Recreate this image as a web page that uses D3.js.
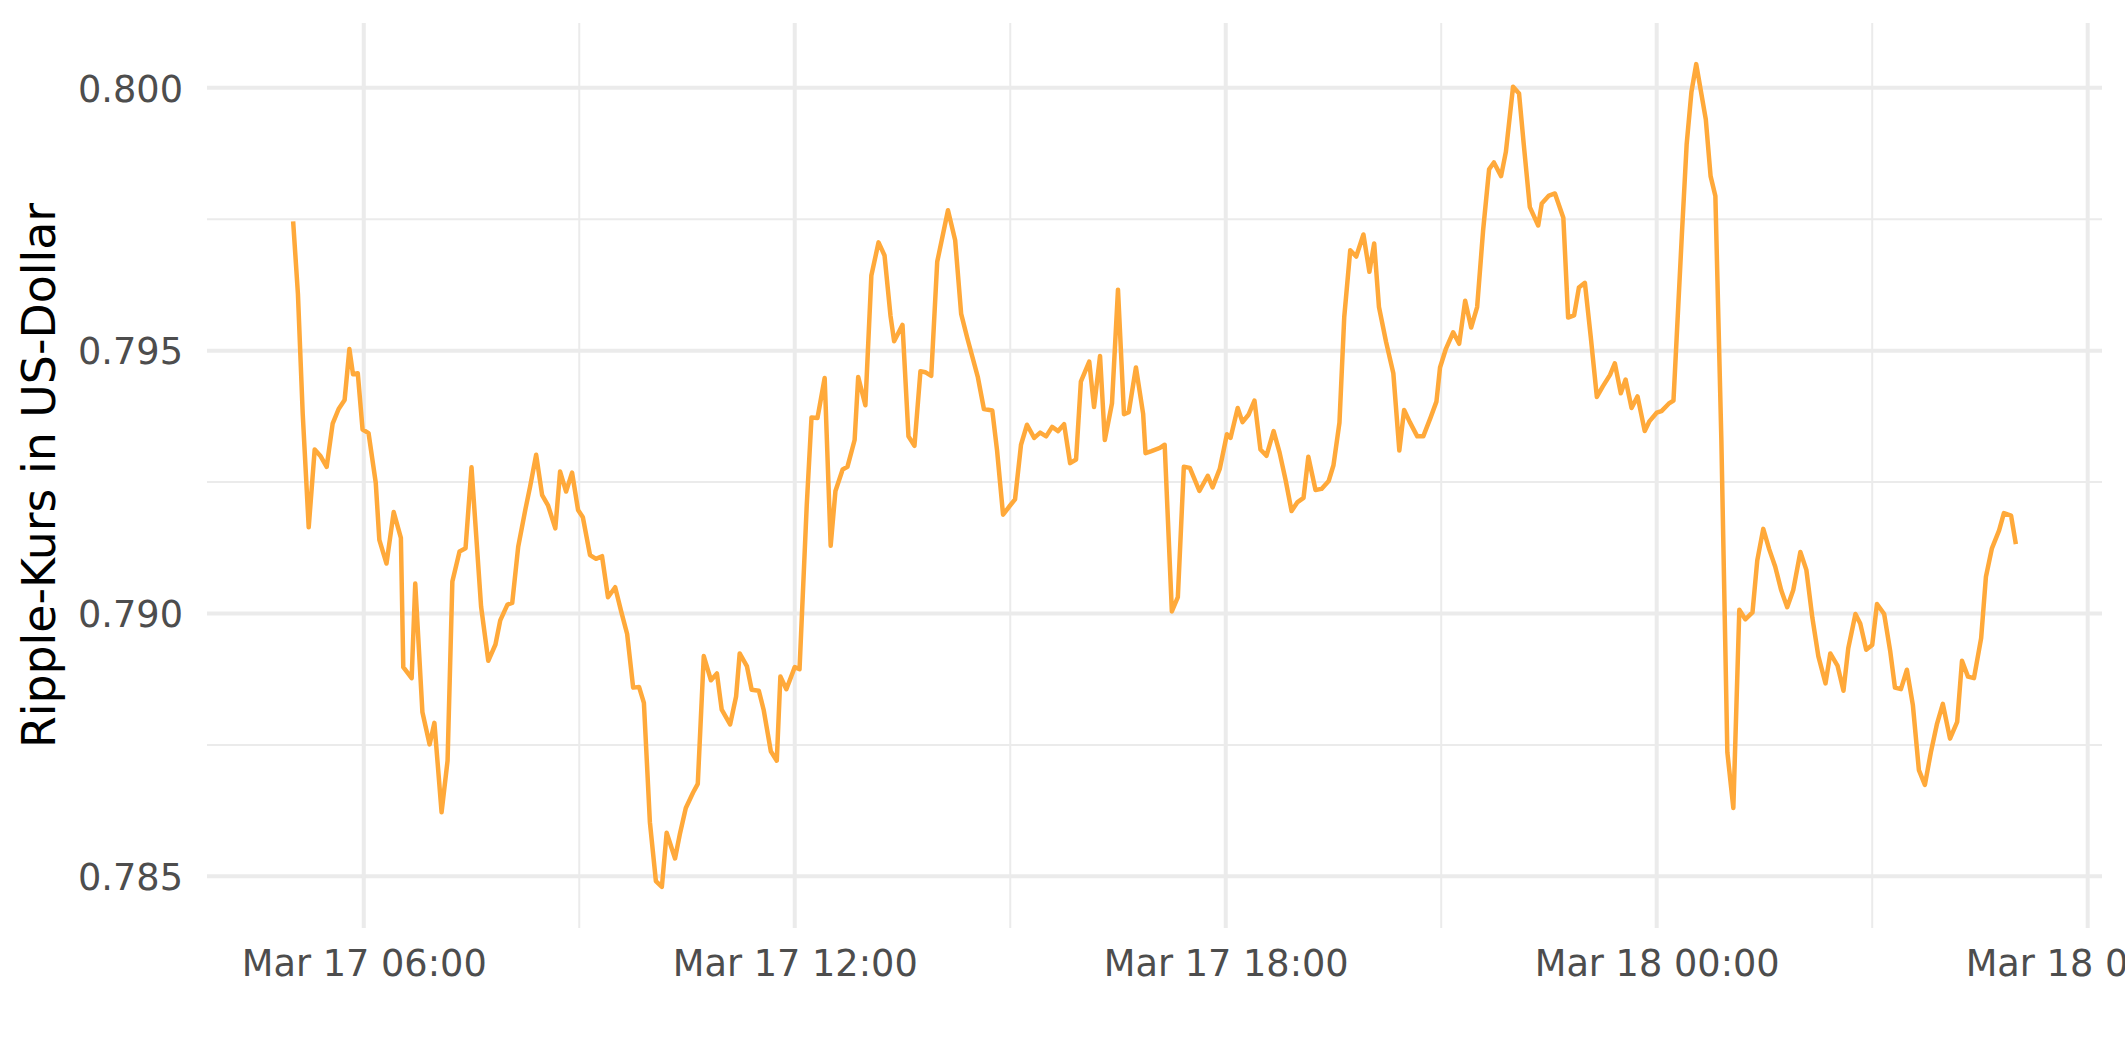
<!DOCTYPE html>
<html>
<head>
<meta charset="utf-8">
<script src="https://cdn.jsdelivr.net/npm/d3@7"></script>
<style>
  html, body { margin: 0; padding: 0; background: #ffffff; }
  svg { display: block; font-family: "DejaVu Sans", sans-serif; }
</style>
</head>
<body>
<svg id="chart" width="2125" height="1062"></svg>
<script>
// Time of each observation, in minutes after Mar 17 06:00
const startTime = "2018-03-17T06:00:00";
const minutesAfterStart = [
  -59,-55,-51,-46,-41,-36,-31,-26,-21,-16,-12,-9,-5,-1,4,10,13,19,25,31,
  33,40,43,49,55,59,65,70,74,80,85,90,98,104,110,114,120,124,129,135,
  139,144,149,154,160,164,169,174,179,183,189,194,199,204,210,215,220,225,230,234,
  239,244,249,253,260,264,269,275,279,284,290,295,299,306,311,314,320,324,330,334,
  340,345,348,353,360,364,370,374,379,385,390,394,400,404,410,413,419,424,430,435,
  440,443,450,455,460,465,469,474,479,488,494,499,504,513,518,525,529,534,539,544,
  549,554,560,565,570,575,580,585,590,595,599,606,610,615,619,625,630,635,639,645,
  651,653,658,665,669,675,680,685,690,694,698,705,709,715,721,724,730,734,739,744,
  749,754,760,765,770,775,780,785,789,795,800,806,810,815,819,824,829,835,840,844,
  848,854,860,865,869,874,880,885,891,896,899,904,910,915,920,925,930,935,940,944,
  950,954,960,965,969,974,981,984,990,995,1002,1006,1011,1015,1020,1025,1030,1035,1041,1045,
  1050,1054,1059,1064,1070,1074,1080,1084,1090,1094,1101,1105,1109,1113,1121,1125,1129,1134,1139,1144,
  1149,1154,1160,1164,1169,1174,1179,1184,1189,1194,1200,1205,1210,1215,1221,1225,1231,1236,1240,1246,
  1250,1255,1260,1264,1270,1275,1279,1284,1289,1294,1299,1304,1309,1314,1319,1325,1331,1335,1340,1345,
  1351,1355,1360,1366,1370,1376,1380
];
// Ripple price in US dollars
const priceUSD = [
  0.79746,0.79608,0.79380,0.79164,0.79312,0.79299,0.79279,0.79361,0.79389,0.79406,0.79503,0.79455,0.79457,0.79350,0.79343,0.79249,0.79140,0.79095,0.79193,0.79144,
  0.78898,0.78877,0.79057,0.78812,0.78751,0.78792,0.78622,0.78720,0.79061,0.79118,0.79124,0.79278,0.79013,0.78910,0.78941,0.78987,0.79017,0.79020,0.79127,0.79198,
  0.79242,0.79302,0.79225,0.79205,0.79162,0.79270,0.79232,0.79268,0.79197,0.79183,0.79111,0.79104,0.79109,0.79031,0.79050,0.79004,0.78961,0.78859,0.78860,0.78830,
  0.78603,0.78491,0.78480,0.78583,0.78534,0.78580,0.78630,0.78659,0.78676,0.78919,0.78873,0.78886,0.78817,0.78789,0.78842,0.78924,0.78900,0.78855,0.78853,0.78817,
  0.78738,0.78720,0.78880,0.78856,0.78898,0.78894,0.79205,0.79373,0.79372,0.79448,0.79129,0.79233,0.79274,0.79279,0.79330,0.79450,0.79396,0.79643,0.79706,0.79681,
  0.79566,0.79518,0.79549,0.79337,0.79319,0.79461,0.79459,0.79452,0.79669,0.79767,0.79710,0.79570,0.79525,0.79449,0.79389,0.79386,0.79310,0.79188,0.79203,0.79217,
  0.79321,0.79359,0.79334,0.79344,0.79337,0.79355,0.79347,0.79360,0.79286,0.79293,0.79441,0.79479,0.79393,0.79490,0.79330,0.79400,0.79616,0.79379,0.79383,0.79468,
  0.79380,0.79305,0.79309,0.79315,0.79321,0.79004,0.79031,0.79279,0.79277,0.79255,0.79233,0.79262,0.79240,0.79275,0.79341,0.79334,0.79391,0.79364,0.79378,0.79405,
  0.79312,0.79300,0.79347,0.79306,0.79254,0.79195,0.79212,0.79220,0.79298,0.79235,0.79237,0.79252,0.79282,0.79363,0.79564,0.79691,0.79679,0.79721,0.79650,0.79704,
  0.79583,0.79516,0.79457,0.79310,0.79387,0.79363,0.79337,0.79337,0.79372,0.79403,0.79468,0.79504,0.79535,0.79513,0.79595,0.79544,0.79583,0.79729,0.79845,0.79858,
  0.79832,0.79878,0.80002,0.79989,0.79891,0.79773,0.79738,0.79780,0.79795,0.79799,0.79753,0.79563,0.79567,0.79620,0.79629,0.79524,0.79412,0.79432,0.79454,0.79476,
  0.79419,0.79445,0.79391,0.79413,0.79347,0.79366,0.79382,0.79385,0.79399,0.79405,0.79720,0.79892,0.79992,0.80045,0.79940,0.79832,0.79794,0.79330,0.78736,0.78630,
  0.79007,0.78989,0.79002,0.79101,0.79161,0.79122,0.79089,0.79044,0.79012,0.79044,0.79117,0.79083,0.78992,0.78919,0.78867,0.78924,0.78901,0.78853,0.78934,0.78999,
  0.78981,0.78931,0.78940,0.79018,0.78999,0.78929,0.78859,0.78856,0.78893,0.78825,0.78702,0.78674,0.78736,0.78789,0.78828,0.78762,0.78794,0.78910,0.78880,0.78877,
  0.78953,0.79070,0.79124,0.79158,0.79191,0.79186,0.79132
];
const yTickValues = [0.785, 0.790, 0.795, 0.800];
const yMinorValues = [0.7875, 0.7925, 0.7975];
const yTitle = "Ripple-Kurs in US-Dollar";

const start = new Date(startTime);
const data = minutesAfterStart.map((m, i) => ({
  t: new Date(start.getTime() + m * 60000),
  v: priceUSD[i]
}));

const W = 2125, H = 1062;
const panel = { left: 207, right: 2102, top: 23, bottom: 928 };

const svg = d3.select("#chart");

// ggplot-like 5% expansion
const tExt = d3.extent(data, d => d.t.getTime());
const tPad = (tExt[1] - tExt[0]) * 0.05;
const x = d3.scaleTime()
  .domain([new Date(tExt[0] - tPad), new Date(tExt[1] + tPad)])
  .range([panel.left, panel.right]);

const vExt = d3.extent(data, d => d.v);
const vPad = (vExt[1] - vExt[0]) * 0.05;
const y = d3.scaleLinear()
  .domain([vExt[0] - vPad, vExt[1] + vPad])
  .range([panel.bottom, panel.top]);

const gridColor = "#EBEBEB";

// x ticks
const xMajor = d3.timeHour.every(6).range(x.domain()[0], x.domain()[1]);
const xMinor = d3.timeHour.every(3).range(x.domain()[0], x.domain()[1])
  .filter(d => d.getHours() % 6 !== 0);

const grid = svg.append("g");
grid.selectAll(".ymin").data(yMinorValues).join("line")
  .attr("x1", panel.left).attr("x2", panel.right)
  .attr("y1", d => y(d)).attr("y2", d => y(d))
  .attr("stroke", gridColor).attr("stroke-width", 2);
grid.selectAll(".xmin").data(xMinor).join("line")
  .attr("x1", d => x(d)).attr("x2", d => x(d))
  .attr("y1", panel.top).attr("y2", panel.bottom)
  .attr("stroke", gridColor).attr("stroke-width", 2);
grid.selectAll(".ymaj").data(yTickValues).join("line")
  .attr("x1", panel.left).attr("x2", panel.right)
  .attr("y1", d => y(d)).attr("y2", d => y(d))
  .attr("stroke", gridColor).attr("stroke-width", 4);
grid.selectAll(".xmaj").data(xMajor).join("line")
  .attr("x1", d => x(d)).attr("x2", d => x(d))
  .attr("y1", panel.top).attr("y2", panel.bottom)
  .attr("stroke", gridColor).attr("stroke-width", 4);

// line
const line = d3.line().x(d => x(d.t)).y(d => y(d.v));
svg.append("path")
  .datum(data)
  .attr("d", line)
  .attr("fill", "none")
  .attr("stroke", "#FFA93A")
  .attr("stroke-width", 4.5)
  .attr("stroke-linejoin", "round");

// y axis labels (via d3 axis, no domain / ticks)
const yAxis = d3.axisLeft(y).tickValues(yTickValues).tickFormat(d3.format(".3f")).tickSize(0).tickPadding(0);
const gy = svg.append("g").attr("transform", `translate(${panel.left - 24},0)`).call(yAxis);
gy.select(".domain").remove();
gy.selectAll("text")
  .attr("fill", "#4D4D4D")
  .style("font-family", "'DejaVu Sans', sans-serif")
  .style("font-size", "36.7px")
  .attr("x", 0)
  .attr("dy", "0.36em");

// x axis labels
const xAxis = d3.axisBottom(x).tickValues(xMajor).tickFormat(d3.timeFormat("%b %d %H:%M")).tickSize(0).tickPadding(0);
const gx = svg.append("g").attr("transform", `translate(0,${panel.bottom})`).call(xAxis);
gx.select(".domain").remove();
gx.selectAll("text")
  .attr("fill", "#4D4D4D")
  .style("font-family", "'DejaVu Sans', sans-serif")
  .style("font-size", "36.7px")
  .attr("y", 48)
  .attr("dy", 0);

// y title
svg.append("text")
  .attr("transform", `translate(55,${(panel.top + panel.bottom) / 2}) rotate(-90)`)
  .attr("text-anchor", "middle")
  .attr("fill", "#000000")
  .style("font-family", "'DejaVu Sans', sans-serif")
  .style("font-size", "45.8px")
  .text(yTitle);
</script>
</body>
</html>
